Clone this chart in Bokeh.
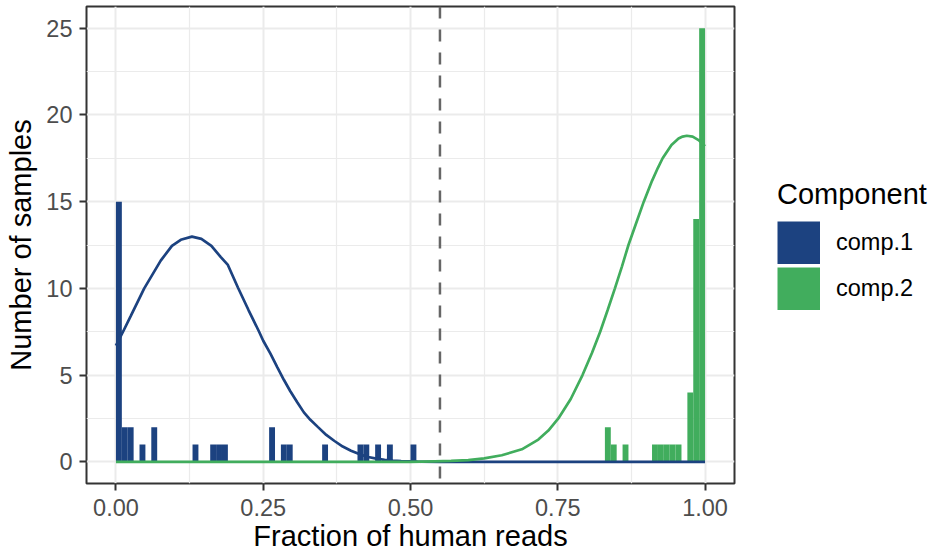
from bokeh.plotting import figure
from bokeh.models import Range1d, Span, Legend, LegendItem, FixedTicker
from bokeh.embed import file_html
from bokeh.resources import INLINE

# ---------------- data ----------------
bin_width = 0.01
comp1_bins = [0.00, 0.01, 0.02, 0.04, 0.06, 0.13, 0.16, 0.17, 0.18, 0.26, 0.28, 0.29, 0.35, 0.41, 0.42, 0.44, 0.46, 0.50]
comp1_counts = [15, 2, 2, 1, 2, 1, 1, 1, 1, 2, 1, 1, 1, 1, 1, 1, 1, 1]
comp2_bins = [0.83, 0.84, 0.86, 0.91, 0.92, 0.93, 0.94, 0.95, 0.97, 0.98, 0.99]
comp2_counts = [2, 1, 1, 1, 1, 1, 1, 1, 4, 14, 25]

comp1_curve_x = [0.0, 0.012, 0.025, 0.048, 0.076, 0.095, 0.11, 0.129, 0.145, 0.162, 0.178, 0.19,
                 0.207, 0.225, 0.243, 0.25, 0.262, 0.274, 0.285, 0.296, 0.308, 0.319, 0.33, 0.343,
                 0.357, 0.371, 0.385, 0.399, 0.414, 0.428, 0.442, 0.456, 0.47, 0.484, 0.512,
                 0.55, 0.6, 0.7, 0.8, 0.9, 1.0]
comp1_curve_y = [6.7, 7.5, 8.4, 10.0, 11.6, 12.45, 12.8, 12.98, 12.85, 12.45, 11.8, 11.35,
                 10.05, 8.75, 7.5, 6.98, 6.25, 5.45, 4.73, 4.07, 3.42, 2.85, 2.42, 2.0,
                 1.55, 1.2, 0.88, 0.64, 0.43, 0.28, 0.18, 0.11, 0.07, 0.04, 0.01,
                 0.0, 0.0, 0.0, 0.0, 0.0, 0.0]

comp2_curve_x = [0.0, 0.1, 0.2, 0.3, 0.4, 0.5, 0.541, 0.569, 0.598, 0.625, 0.655, 0.689, 0.717,
                 0.734, 0.751, 0.772, 0.792, 0.808, 0.822, 0.835, 0.847, 0.859, 0.870, 0.883, 0.896,
                 0.91, 0.92, 0.928, 0.943, 0.955, 0.962, 0.969, 0.979, 0.989, 1.0]
comp2_curve_y = [0.0, 0.0, 0.0, 0.0, 0.0, 0.0, 0.03, 0.05, 0.1, 0.2, 0.38, 0.72, 1.28,
                 1.8, 2.5, 3.62, 5.0, 6.27, 7.5, 8.78, 10.0, 11.27, 12.5, 13.75, 15.0,
                 16.2, 16.95, 17.5, 18.27, 18.64, 18.75, 18.8, 18.75, 18.55, 18.2]

threshold = 0.55

x_ticks = [0.0, 0.25, 0.5, 0.75, 1.0]
x_tick_labels = ["0.00", "0.25", "0.50", "0.75", "1.00"]
x_minor = [0.125, 0.375, 0.625, 0.875]
y_ticks = [0, 5, 10, 15, 20, 25]
y_tick_labels = ["0", "5", "10", "15", "20", "25"]
y_minor = [2.5, 7.5, 12.5, 17.5, 22.5]

series_names = ["comp.1", "comp.2"]
colors = ["#1C4280", "#41AD5D"]

FONT = "Liberation Sans"

# ---------------- figure ----------------
p = figure(frame_width=648, frame_height=477,
           x_range=Range1d(-0.05, 1.05), y_range=Range1d(-1.25, 26.25),
           min_border_left=86, min_border_right=200, min_border_top=6, min_border_bottom=70,
           output_backend="svg", toolbar_location=None)

p.background_fill_color = "white"
p.border_fill_color = "white"
p.outline_line_color = "#333333"
p.outline_line_width = 2

# grids
for g, ticks, minor in ((p.xgrid, x_ticks, x_minor), (p.ygrid, y_ticks, y_minor)):
    g.ticker = FixedTicker(ticks=ticks, minor_ticks=minor)
    g.grid_line_color = "#EBEBEB"
    g.grid_line_width = 2
    g.minor_grid_line_color = "#EBEBEB"
    g.minor_grid_line_width = 1.2

# axes
p.xaxis.ticker = FixedTicker(ticks=x_ticks, minor_ticks=x_minor)
p.yaxis.ticker = FixedTicker(ticks=y_ticks, minor_ticks=y_minor)
p.xaxis.major_label_overrides = {t: l for t, l in zip(x_ticks, x_tick_labels)}
p.yaxis.major_label_overrides = {t: l for t, l in zip(y_ticks, y_tick_labels)}
p.xaxis.axis_label = "Fraction of human reads"
p.yaxis.axis_label = "Number of samples"
for ax in (p.xaxis[0], p.yaxis[0]):
    ax.axis_line_color = None
    ax.major_tick_line_color = "#333333"
    ax.major_tick_line_width = 2
    ax.major_tick_out = 7
    ax.major_tick_in = 0
    ax.minor_tick_line_color = None
    ax.major_label_text_font = FONT
    ax.major_label_text_font_size = "23.5px"
    ax.major_label_text_color = "#4D4D4D"
    ax.axis_label_text_font = FONT
    ax.axis_label_text_font_size = "29px"
    ax.axis_label_text_font_style = "normal"
    ax.axis_label_text_color = "black"
p.xaxis.major_label_standoff = 8
p.xaxis.axis_label_standoff = 1
p.yaxis.major_label_standoff = 7
p.yaxis.axis_label_standoff = 6

# bars
r1 = p.quad(left=comp1_bins, right=[b + bin_width for b in comp1_bins], bottom=0, top=comp1_counts,
            fill_color=colors[0], line_color=None)
r2 = p.quad(left=comp2_bins, right=[b + bin_width for b in comp2_bins], bottom=0, top=comp2_counts,
            fill_color=colors[1], line_color=None)

# fitted curves
p.line(comp1_curve_x, comp1_curve_y, line_color=colors[0], line_width=2.7)
p.line(comp2_curve_x, comp2_curve_y, line_color=colors[1], line_width=2.7)

# threshold
p.add_layout(Span(location=threshold, dimension="height", line_color="#666666",
                  line_width=2.5, line_dash="12 11"))

# legend keys: hidden thick-line renderers give full-size square swatches
key1 = p.line(comp1_curve_x, comp1_curve_y, line_color=colors[0], line_width=43,
              line_cap="butt", visible=False)
key2 = p.line(comp2_curve_x, comp2_curve_y, line_color=colors[1], line_width=43,
              line_cap="butt", visible=False)

legend = Legend(items=[LegendItem(label=series_names[0], renderers=[key1]),
                       LegendItem(label=series_names[1], renderers=[key2])],
                location=(43, 173), title="Component",
                title_text_font=FONT, title_text_font_size="29px", title_text_font_style="normal",
                title_text_color="black", title_standoff=10,
                label_text_font=FONT, label_text_font_size="23.5px", label_text_color="black",
                glyph_width=43, glyph_height=43, label_standoff=16, spacing=3,
                padding=0, margin=0, border_line_color=None, background_fill_alpha=0,
                click_policy="none")
p.add_layout(legend, "right")

open("out.html", "w").write(file_html(p, INLINE))
